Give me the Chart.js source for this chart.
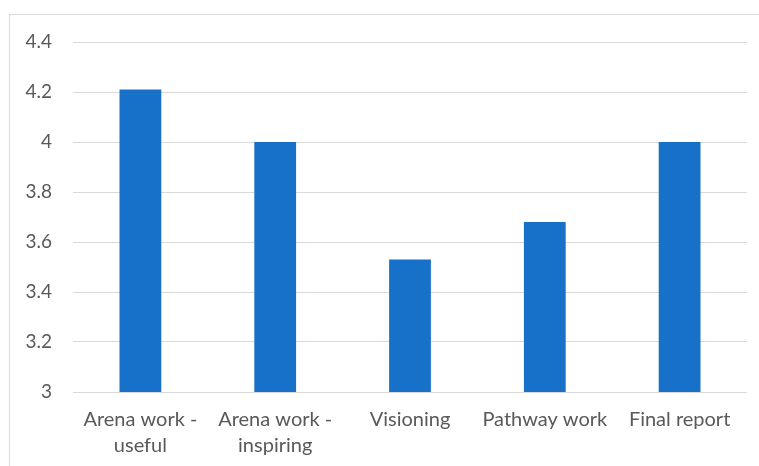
<!DOCTYPE html>
<html>
<head>
<meta charset="utf-8">
<script src="https://cdn.jsdelivr.net/npm/chart.js@4"></script>
<style>
  html, body { margin: 0; padding: 0; background: #fff; }
  #wrap { position: absolute; left: 0; top: 0; width: 759px; height: 466px; overflow: hidden; }
  #frame { position: absolute; left: 9px; top: 14px; width: 760px; height: 480px; border: 1px solid #d9d9d9; box-sizing: border-box; }
  canvas { position: absolute; left: 0; top: 0; }
</style>
</head>
<body>
<div id="wrap">
  <div id="frame"></div>
  <canvas id="c" width="759" height="466"></canvas>
</div>
<script>
const categories = [
  ['Arena work -', 'useful'],
  ['Arena work -', 'inspiring'],
  'Visioning',
  'Pathway work',
  'Final report'
];
const scores = [4.21, 4.0, 3.53, 3.68, 4.0];
const yMin = 3;
const yMax = 4.4;
const yStep = 0.2;

const FAMILY = 'Lato, "Open Sans", sans-serif';
const TEXT = '#595959';

new Chart(document.getElementById('c'), {
  type: 'bar',
  data: {
    labels: categories,
    datasets: [{
      data: scores,
      backgroundColor: '#1771c8',
      borderWidth: 0,
      categoryPercentage: 1,
      barPercentage: 0.31
    }]
  },
  options: {
    responsive: false,
    animation: false,
    devicePixelRatio: 1,
    layout: { padding: { left: 0, top: 42, right: 12, bottom: 0 } },
    plugins: { legend: { display: false }, tooltip: { enabled: false } },
    scales: {
      x: {
        grid: { display: false, drawTicks: false },
        border: { display: false },
        ticks: { color: TEXT, font: { family: FAMILY, size: 20, lineHeight: 1.3 }, padding: 15, maxRotation: 0, autoSkip: false },
        afterFit: s => { s.height = 74; }
      },
      y: {
        min: yMin,
        max: yMax,
        grid: { color: '#d9d9d9', lineWidth: 1, drawTicks: false },
        border: { display: false },
        ticks: {
          stepSize: yStep,
          color: TEXT,
          font: { family: FAMILY, size: 19 },
          padding: 21,
          callback: v => String(Math.round(v * 10) / 10)
        },
        afterFit: s => { s.width = 73; }
      }
    }
  }
});
</script>
</body>
</html>
